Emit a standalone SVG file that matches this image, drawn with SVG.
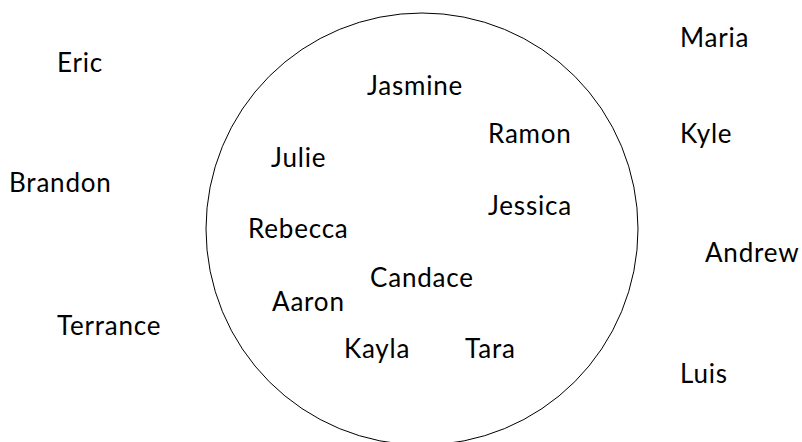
<svg xmlns="http://www.w3.org/2000/svg" width="802" height="442" viewBox="0 0 802 442">
<style>
text { font-family: Lato, "Liberation Sans", sans-serif; font-size: 26px; letter-spacing: 0.8px; fill: #000; }
.ring { fill: none; stroke: #000; stroke-width: 1; }
</style>
<rect width="802" height="442" fill="#fff"/>
<g id="circle"><circle class="ring" cx="422" cy="229" r="216"/></g>
<g id="connectors"></g>
<g id="n-eric"><text x="57" y="72">Eric</text></g>
<g id="n-brandon"><text x="9" y="192">Brandon</text></g>
<g id="n-terrance"><text x="57" y="335">Terrance</text></g>
<g id="n-maria"><text x="680" y="47">Maria</text></g>
<g id="n-kyle"><text x="680" y="143">Kyle</text></g>
<g id="n-andrew"><text x="705" y="262">Andrew</text></g>
<g id="n-luis"><text x="680" y="383">Luis</text></g>
<g id="n-jasmine"><text x="367" y="95">Jasmine</text></g>
<g id="n-ramon"><text x="488" y="143">Ramon</text></g>
<g id="n-julie"><text x="271" y="167">Julie</text></g>
<g id="n-jessica"><text x="488" y="215">Jessica</text></g>
<g id="n-rebecca"><text x="248" y="238">Rebecca</text></g>
<g id="n-candace"><text x="370" y="287">Candace</text></g>
<g id="n-aaron"><text x="272" y="311">Aaron</text></g>
<g id="n-kayla"><text x="344" y="358">Kayla</text></g>
<g id="n-tara"><text x="465" y="358">Tara</text></g>
</svg>
